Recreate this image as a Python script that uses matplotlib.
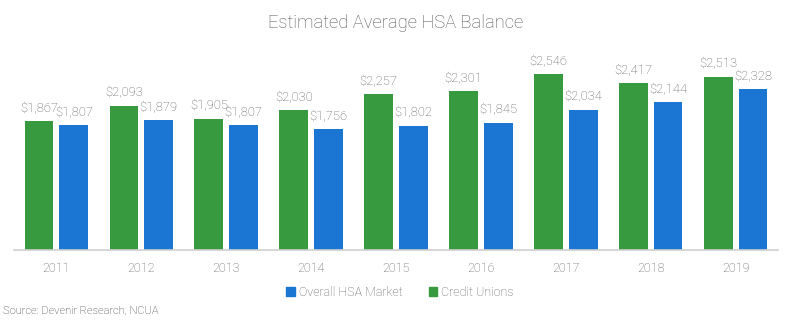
import matplotlib
matplotlib.use("Agg")
import matplotlib.pyplot as plt
import numpy as np
from matplotlib.patches import Patch

years = ["2011", "2012", "2013", "2014", "2015", "2016", "2017", "2018", "2019"]
credit_unions = [1867, 2093, 1905, 2030, 2257, 2301, 2546, 2417, 2513]
overall_market = [1807, 1879, 1807, 1756, 1802, 1845, 2034, 2144, 2328]

GREEN = "#379a3f"
BLUE = "#1b75d2"
TEXT = "#5f5f5f"

plt.rcParams["font.family"] = ["Roboto", "DejaVu Sans"]

fig = plt.figure(figsize=(7.92, 3.24), dpi=100)
ax = fig.add_axes([14 / 792, 74 / 324, 764 / 792, 207 / 324])

x = np.arange(len(years))
w = 0.34
off = 0.205
b1 = ax.bar(x - off, credit_unions, w, color=GREEN)
b2 = ax.bar(x + off, overall_market, w, color=BLUE)

# value labels sit a few points above each bar
for bars, vals in ((b1, credit_unions), (b2, overall_market)):
    for r, v in zip(bars, vals):
        ax.annotate(f"${v:,}", (r.get_x() + r.get_width() / 2, v),
                    xytext=(0, 5), textcoords="offset points",
                    ha="center", va="bottom", fontsize=9.4, color=TEXT,
                    fontweight="light")

ax.set_xlim(-0.5, len(years) - 0.5)
ax.set_ylim(0, 3000)
ax.set_xticks(x)
ax.set_xticklabels(years, fontsize=9, color=TEXT, fontweight="light")
ax.tick_params(axis="x", length=0, pad=9)
ax.set_yticks([])
for s in ("top", "right", "left"):
    ax.spines[s].set_visible(False)
ax.spines["bottom"].set_color("#d0d0d0")
ax.spines["bottom"].set_linewidth(1.2)

fig.text(0.5, 1 - 23 / 324, "Estimated Average HSA Balance", ha="center",
         va="center", fontsize=13.2, color="#555555", fontweight="light")

handles = [Patch(color=BLUE, label="Overall HSA Market"),
           Patch(color=GREEN, label="Credit Unions")]
fig.legend(handles=handles, loc="center", bbox_to_anchor=(0.505, 1 - 292 / 324),
           ncol=2, frameon=False, labelcolor=TEXT,
           handlelength=0.7, handleheight=0.7, handletextpad=0.3,
           columnspacing=2.1, prop={"weight": "light", "size": 9})

fig.text(3 / 792, 1 - 311 / 324, "Source: Devenir Research, NCUA", ha="left",
         va="center", fontsize=8, color="#333333", fontweight="light")

fig.savefig("out.png", dpi=100)
